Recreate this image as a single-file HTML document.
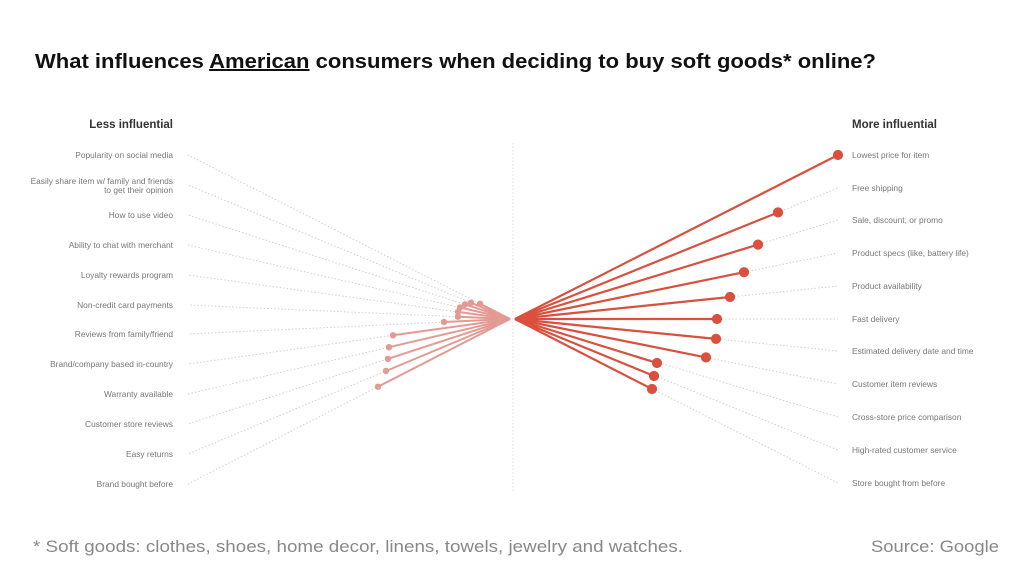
<!DOCTYPE html>
<html><head><meta charset="utf-8"><style>
body{margin:0;background:#fff;width:1024px;height:575px;overflow:hidden;font-family:"Liberation Sans",sans-serif}
</style></head><body>
<svg width="1024" height="575" xmlns="http://www.w3.org/2000/svg" font-family="Liberation Sans, sans-serif">
<text x="35" y="68" font-size="20" font-weight="bold" fill="#111" textLength="841" lengthAdjust="spacingAndGlyphs">What influences <tspan text-decoration="underline">American</tspan> consumers when deciding to buy soft goods* online?</text>
<text x="173" y="128" font-size="11.5" font-weight="bold" fill="#333" text-anchor="end">Less influential</text>
<text x="852" y="128" font-size="11.5" font-weight="bold" fill="#333">More influential</text>
<line x1="513" y1="143" x2="513" y2="493" stroke="#ddd" stroke-dasharray="1.5,2"/>
<g stroke="#d0d0d0" stroke-dasharray="1.5,2" fill="none">
<line x1="510" y1="319" x2="188" y2="155"/><line x1="510" y1="319" x2="188" y2="185"/><line x1="510" y1="319" x2="188" y2="215"/><line x1="510" y1="319" x2="188" y2="245"/><line x1="510" y1="319" x2="188" y2="275"/><line x1="510" y1="319" x2="188" y2="305"/><line x1="510" y1="319" x2="188" y2="334"/><line x1="510" y1="319" x2="188" y2="364"/><line x1="510" y1="319" x2="188" y2="394"/><line x1="510" y1="319" x2="188" y2="424"/><line x1="510" y1="319" x2="188" y2="454"/><line x1="510" y1="319" x2="188" y2="484"/>
<line x1="515" y1="319" x2="838" y2="188"/><line x1="515" y1="319" x2="838" y2="220"/><line x1="515" y1="319" x2="838" y2="253"/><line x1="515" y1="319" x2="838" y2="286"/><line x1="515" y1="319" x2="838" y2="319"/><line x1="515" y1="319" x2="838" y2="351"/><line x1="515" y1="319" x2="838" y2="384"/><line x1="515" y1="319" x2="838" y2="417"/><line x1="515" y1="319" x2="838" y2="450"/><line x1="515" y1="319" x2="838" y2="483"/>
</g>
<g stroke="#e39a93" stroke-width="2" fill="#e39a93">
<line x1="510" y1="319" x2="480" y2="303.7"/><circle cx="480" cy="303.7" r="2.2"/>
<line x1="510" y1="319" x2="471" y2="302.8"/><circle cx="471" cy="302.8" r="2.2"/>
<line x1="510" y1="319" x2="465" y2="304.4"/><circle cx="465" cy="304.4" r="2.2"/>
<line x1="510" y1="319" x2="460" y2="307.5"/><circle cx="460" cy="307.5" r="2.2"/>
<line x1="510" y1="319" x2="458" y2="311.9"/><circle cx="458" cy="311.9" r="2.2"/>
<line x1="510" y1="319" x2="458" y2="316.7"/><circle cx="458" cy="316.7" r="2.2"/>
<line x1="510" y1="319" x2="444" y2="322"/><circle cx="444" cy="322" r="2.2"/>
<line x1="510" y1="319" x2="393" y2="335.3"/><circle cx="393" cy="335.3" r="2.2"/>
<line x1="510" y1="319" x2="389" y2="347.2"/><circle cx="389" cy="347.2" r="2.2"/>
<line x1="510" y1="319" x2="388" y2="358.8"/><circle cx="388" cy="358.8" r="2.2"/>
<line x1="510" y1="319" x2="386" y2="371"/><circle cx="386" cy="371" r="2.2"/>
<line x1="510" y1="319" x2="378" y2="386.7"/><circle cx="378" cy="386.7" r="2.2"/>
</g>
<g stroke="#d9503f" stroke-width="2.2" fill="#d9503f">
<line x1="515" y1="319" x2="838" y2="155"/><circle cx="838" cy="155" r="4"/>
<line x1="515" y1="319" x2="778" y2="212.4"/><circle cx="778" cy="212.4" r="4"/>
<line x1="515" y1="319" x2="758" y2="244.6"/><circle cx="758" cy="244.6" r="4"/>
<line x1="515" y1="319" x2="744" y2="272.2"/><circle cx="744" cy="272.2" r="4"/>
<line x1="515" y1="319" x2="730" y2="297"/><circle cx="730" cy="297" r="4"/>
<line x1="515" y1="319" x2="717" y2="319"/><circle cx="717" cy="319" r="4"/>
<line x1="515" y1="319" x2="716" y2="338.9"/><circle cx="716" cy="338.9" r="4"/>
<line x1="515" y1="319" x2="706" y2="357.4"/><circle cx="706" cy="357.4" r="4"/>
<line x1="515" y1="319" x2="657" y2="363"/><circle cx="657" cy="363" r="4"/>
<line x1="515" y1="319" x2="654" y2="376"/><circle cx="654" cy="376" r="4"/>
<line x1="515" y1="319" x2="652" y2="389"/><circle cx="652" cy="389" r="4"/>
</g>
<g font-size="8.4" fill="#777" text-anchor="end">
<text x="173" y="158">Popularity on social media</text>
<text x="173" y="184">Easily share item w/ family and friends</text>
<text x="173" y="193">to get their opinion</text>
<text x="173" y="218">How to use video</text>
<text x="173" y="248">Ability to chat with merchant</text>
<text x="173" y="278">Loyalty rewards program</text>
<text x="173" y="308">Non-credit card payments</text>
<text x="173" y="337">Reviews from family/friend</text>
<text x="173" y="367">Brand/company based in-country</text>
<text x="173" y="397">Warranty available</text>
<text x="173" y="427">Customer store reviews</text>
<text x="173" y="457">Easy returns</text>
<text x="173" y="487">Brand bought before</text>
</g>
<g font-size="8.4" fill="#777">
<text x="852" y="158">Lowest price for item</text>
<text x="852" y="191">Free shipping</text>
<text x="852" y="223">Sale, discount, or promo</text>
<text x="852" y="256">Product specs (like, battery life)</text>
<text x="852" y="289">Product availability</text>
<text x="852" y="322">Fast delivery</text>
<text x="852" y="354">Estimated delivery date and time</text>
<text x="852" y="387">Customer item reviews</text>
<text x="852" y="420">Cross-store price comparison</text>
<text x="852" y="453">High-rated customer service</text>
<text x="852" y="486">Store bought from before</text>
</g>
<text x="33" y="552" font-size="17" fill="#888" textLength="650" lengthAdjust="spacingAndGlyphs">* Soft goods: clothes, shoes, home decor, linens, towels, jewelry and watches.</text>
<text x="871" y="552" font-size="17" fill="#888" textLength="128" lengthAdjust="spacingAndGlyphs">Source: Google</text>
</svg>
</body></html>
